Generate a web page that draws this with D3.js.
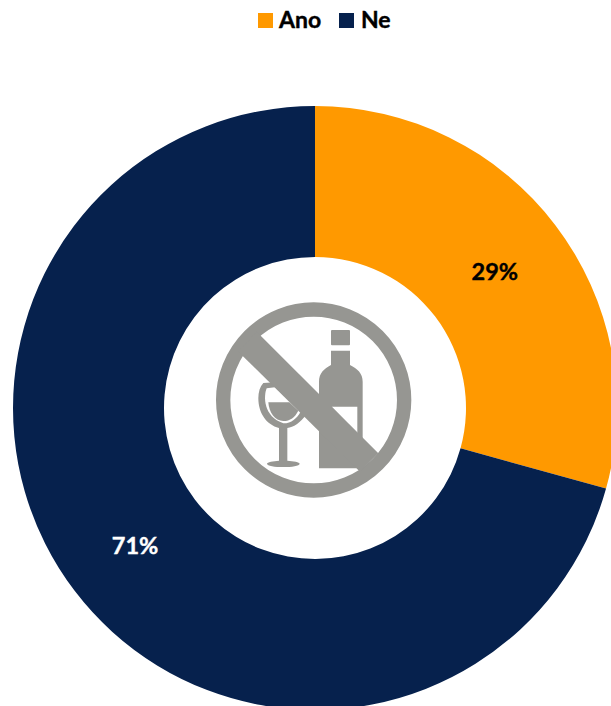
<!DOCTYPE html>
<html><head><meta charset="utf-8">
<script src="https://cdnjs.cloudflare.com/ajax/libs/d3/7.8.5/d3.min.js"></script>
<style>html,body{margin:0;padding:0;background:#fff;overflow:hidden}svg{display:block}text{font-family:Lato,"Open Sans",sans-serif;font-weight:700}</style>
</head><body><svg id="c" width="611" height="706"></svg>
<script>
const categories = ["Ano", "Ne"];
const values = [29.3, 70.7];
const labels = ["29%", "71%"];
const colors = ["#FF9900", "#06214D"];
const labelColors = ["#000000", "#FFFFFF"];

const svg = d3.select("#c");
const cx = 315, cy = 408, R = 302, r = 151;
const color = d3.scaleOrdinal(categories, colors);
const pie = d3.pie().sort(null).value(d => d.v)(categories.map((c, i) => ({c, v: values[i], l: labels[i], t: labelColors[i]})));
const arc = d3.arc().innerRadius(r).outerRadius(R);
const g = svg.append("g").attr("transform", `translate(${cx},${cy})`);
g.selectAll("path").data(pie).join("path").attr("d", arc).attr("fill", d => color(d.data.c));
const labelArc = d3.arc().innerRadius(226).outerRadius(226);
g.selectAll("text").data(pie).join("text")
  .attr("transform", d => `translate(${labelArc.centroid(d)})`)
  .attr("text-anchor", "middle").attr("dominant-baseline", "central")
  .attr("font-size", 23.5).attr("fill", d => d.data.t)
  .attr("stroke", d => d.data.t).attr("stroke-width", 0.4).text(d => d.data.l);

// legend
const legendX = d3.scaleOrdinal(categories, [258, 339]);
const lg = svg.append("g").selectAll("g").data(categories).join("g").attr("transform", d => `translate(${legendX(d)},13)`);
lg.append("rect").attr("width", 15).attr("height", 15).attr("fill", d => color(d));
lg.append("text").attr("x", d => d === "Ano" ? 21 : 22).attr("y", 15).attr("font-size", 23).attr("fill", "#000")
  .attr("stroke", "#000").attr("stroke-width", 0.4).text(d => d);

// no-alcohol icon
const gray = "#969692";
const icon = svg.append("g").attr("transform", "translate(200,290) scale(0.33333)");
// bottle
icon.append("rect").attr("x",393).attr("y",120).attr("width",57).attr("height",46).attr("rx",3).attr("fill",gray);
icon.append("path").attr("fill",gray).attr("d","M393,182H450V225C472,236 488,250 488,275V470L470,535H357V275C357,250 372,236 393,225Z");
icon.append("path").attr("fill","#fff").attr("d","M395,350H472V430Z");
// glass
icon.append("path").attr("fill",gray).attr("d","M190,279L225,277L320,372C300,400 280,412 262,414V512C280,514 299,516 299,521C299,528 275,531 250,531C225,531 201,528 201,521C201,516 220,514 237,512V414C200,405 175,370 175,325C175,305 180,290 190,279Z");
icon.append("path").attr("fill","#fff").attr("d","M200,295C190,320 190,380 250,400C275,400 290,385 302,365L225,292Z");
icon.append("path").attr("fill",gray).attr("d","M205,337H268L295,362C285,382 270,393 250,393C225,393 207,368 205,337Z");
// ring and slash
icon.append("circle").attr("cx",341).attr("cy",330).attr("r",271.5).attr("fill","none").attr("stroke",gray).attr("stroke-width",43);
icon.append("path").attr("fill",gray).attr("d","M170,125L535,490L480,545L115,185Z");
</script></body></html>
